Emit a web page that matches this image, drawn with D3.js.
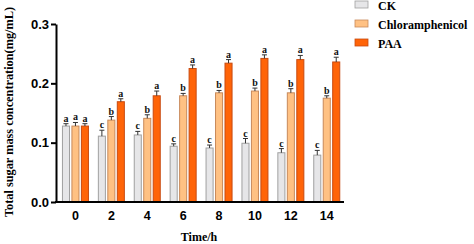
<!DOCTYPE html>
<html>
<head>
<meta charset="utf-8">
<script src="https://cdn.jsdelivr.net/npm/d3@7"></script>
<style>
  body { margin: 0; background: #fff; }
  svg { display: block; }
</style>
</head>
<body>
<svg id="chart" width="474" height="244"></svg>
<script>
// data
const times = ["0", "2", "4", "6", "8", "10", "12", "14"];
const groups = ["CK", "Chloramphenicol", "PAA"];
const ckMean = [0.128, 0.111, 0.113, 0.094, 0.091, 0.099, 0.083, 0.079];
const chlMean = [0.128, 0.138, 0.141, 0.179, 0.184, 0.187, 0.184, 0.175];
const paaMean = [0.128, 0.169, 0.179, 0.225, 0.234, 0.242, 0.240, 0.236];
const ckErr = [0.004, 0.010, 0.006, 0.004, 0.005, 0.008, 0.007, 0.008];
const chlErr = [0.006, 0.006, 0.006, 0.004, 0.004, 0.005, 0.007, 0.004];
const paaErr = [0.004, 0.005, 0.008, 0.006, 0.006, 0.006, 0.007, 0.008];
const ckSig = ["a", "c", "c", "c", "c", "c", "c", "c"];
const chlSig = ["a", "b", "b", "b", "b", "b", "b", "b"];
const paaSig = ["a", "a", "a", "a", "a", "a", "a", "a"];
const yTicks = [0, 0.1, 0.2, 0.3];

const series = [
  { name: groups[0], mean: ckMean, err: ckErr, sig: ckSig, fill: "#e6e6e8", stroke: "#a0a0a0" },
  { name: groups[1], mean: chlMean, err: chlErr, sig: chlSig, fill: "#ffc183", stroke: "#c8895a" },
  { name: groups[2], mean: paaMean, err: paaErr, sig: paaSig, fill: "#ff6408", stroke: "#c84a10" }
];

const svg = d3.select("#chart");
const mLeft = 56, mRight = 344, mTop = 24, mBottom = 202;

const x = d3.scaleBand().domain(times).range([57.5, 344.7]);
const xSub = d3.scaleBand().domain(groups).range([-13.5, 13.5]).paddingInner(0.15);
const y = d3.scaleLinear().domain([0, 0.3]).range([mBottom, mTop]);

// flatten to one record per bar
const bars = [];
series.forEach(s => {
  times.forEach((t, i) => {
    bars.push({ t: t, g: s.name, v: s.mean[i], e: s.err[i], sig: s.sig[i], fill: s.fill, stroke: s.stroke });
  });
});
const bx = d => x(d.t) + x.bandwidth() / 2 + xSub(d.g);

svg.selectAll("rect.bar").data(bars)
  .join("rect")
  .attr("class", "bar")
  .attr("x", d => bx(d) + 0.5)
  .attr("y", d => y(d.v))
  .attr("width", xSub.bandwidth() - 1)
  .attr("height", d => y(0) - y(d.v))
  .attr("fill", d => d.fill)
  .attr("stroke", d => d.stroke)
  .attr("stroke-width", 1);

// error bars (upper half only)
const ex = d => bx(d) + xSub.bandwidth() / 2;
svg.selectAll("line.err").data(bars)
  .join("line")
  .attr("class", "err")
  .attr("x1", ex).attr("x2", ex)
  .attr("y1", d => y(d.v)).attr("y2", d => y(d.v + d.e))
  .attr("stroke", "#333").attr("stroke-width", 1);
svg.selectAll("line.cap").data(bars)
  .join("line")
  .attr("class", "cap")
  .attr("x1", d => ex(d) - 2.5).attr("x2", d => ex(d) + 2.5)
  .attr("y1", d => y(d.v + d.e)).attr("y2", d => y(d.v + d.e))
  .attr("stroke", "#333").attr("stroke-width", 1);

// significance letters
svg.selectAll("text.sig").data(bars)
  .join("text")
  .attr("class", "sig")
  .attr("x", ex)
  .attr("y", d => y(d.v + d.e) - 2)
  .attr("text-anchor", "middle")
  .style("font", "bold 10px 'Liberation Serif', 'Times New Roman', serif")
  .attr("fill", "#111")
  .text(d => d.sig);

// y axis
const yAxis = svg.append("g")
  .attr("transform", `translate(${mLeft},0)`)
  .call(d3.axisLeft(y).tickValues(yTicks).tickFormat(d3.format(".1f")).tickSize(5).tickSizeOuter(0));
yAxis.select(".domain").attr("stroke", "#000").attr("stroke-width", 2);
yAxis.selectAll(".tick line").attr("stroke", "#000").attr("stroke-width", 2);
yAxis.selectAll(".tick text")
  .attr("x", -7)
  .style("font", "bold 13px 'Liberation Sans', Arial, sans-serif")
  .attr("fill", "#000");

// x axis
const xAxis = svg.append("g")
  .attr("transform", `translate(0,${mBottom})`)
  .call(d3.axisBottom(x).tickSize(0).tickPadding(9));
xAxis.select(".domain").attr("d", `M${mLeft - 1},0H${mRight}`).attr("stroke", "#000").attr("stroke-width", 2);
xAxis.selectAll(".tick text")
  .style("font", "bold 12.5px 'Liberation Sans', Arial, sans-serif")
  .attr("fill", "#000");

// axis titles
svg.append("text")
  .attr("x", 199)
  .attr("y", 241)
  .attr("text-anchor", "middle")
  .style("font", "bold 12px 'Liberation Serif', 'Times New Roman', serif")
  .text("Time/h");

svg.append("text")
  .attr("transform", "translate(13,112) rotate(-90)")
  .attr("text-anchor", "middle")
  .style("font", "bold 12.3px 'Liberation Serif', 'Times New Roman', serif")
  .text("Total sugar mass concentration(mg/mL)");

// legend
const legend = svg.selectAll("g.legend").data(series)
  .join("g")
  .attr("class", "legend")
  .attr("transform", (d, i) => `translate(355,${1 + i * 19})`);
legend.append("rect")
  .attr("y", 0).attr("width", 13).attr("height", 7)
  .attr("fill", d => d.fill).attr("stroke", d => d.stroke).attr("stroke-width", 0.8);
legend.append("text")
  .attr("x", 23).attr("y", 8.5)
  .style("font", "bold 12px 'Liberation Serif', 'Times New Roman', serif")
  .text(d => d.name);
</script>
</body>
</html>
